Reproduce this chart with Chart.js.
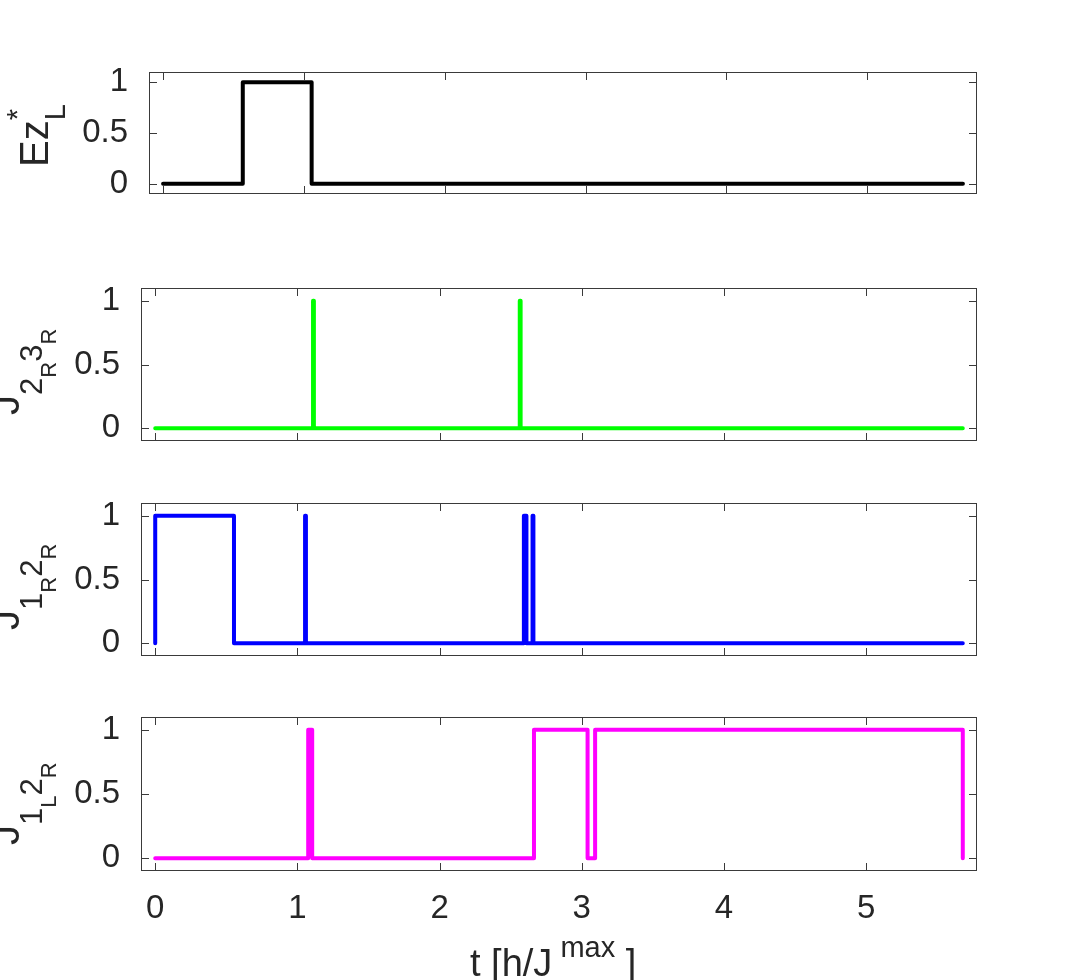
<!DOCTYPE html>
<html>
<head>
<meta charset="utf-8">
<script src="https://cdn.jsdelivr.net/npm/chart.js@4.4.1/dist/chart.umd.min.js"></script>
<style>
  body { margin: 0; background: #fff; }
  #page { position: relative; width: 1080px; height: 980px; overflow: hidden; background: #fff;
          font-family: "Liberation Sans", Arial, sans-serif; color: #262626; }
  canvas { position: absolute; left: 0; }
  /* rotated axis labels: origin is the start of the text, baseline ~34px right of it */
  .ylab { position: absolute; transform-origin: 0 0; transform: rotate(-90deg); white-space: nowrap;
          font-size: 40px; line-height: 1; }
  .sb { font-size: 31px; position: relative; top: 23px; }
  .ssb { font-size: 22px; position: relative; top: 14px; }
  .up { font-size: 29px; position: relative; top: -21px; margin-right: -0.389em; }
  .dn { font-size: 29px; position: relative; top: 17px; }
  #xlab { position: absolute; left: 470px; top: 944px; white-space: nowrap; font-size: 38px; line-height: 1; }
  #xlab .sup { font-size: 29px; position: relative; top: -19px; margin-left: 8px; }
</style>
</head>
<body>
<div id="page">
  <canvas id="c1"></canvas>
  <canvas id="c2"></canvas>
  <canvas id="c3"></canvas>
  <canvas id="c4"></canvas>
  <div class="ylab" style="left:14px; top:167px;">Ez<span class="up">*</span><span class="dn">L</span></div>
  <div class="ylab" style="left:-15px; top:415px;">J<span class="sb">2<span class="ssb">R</span>3<span class="ssb">R</span></span></div>
  <div class="ylab" style="left:-15px; top:630px;">J<span class="sb">1<span class="ssb">R</span>2<span class="ssb">R</span></span></div>
  <div class="ylab" style="left:-15px; top:845px;">J<span class="sb">1<span class="ssb">L</span>2<span class="ssb">R</span></span></div>
  <div id="xlab">t [h/J<span class="sup">max</span> ]</div>
</div>
<script>
// switching times (t) and the value the signal takes from that time on
const ezTimes = [0, 0.566, 1.055, 5.68];
const ezValues = [0, 1, 0, 0];

const j23Times = [0, 1.11, 1.116, 2.564, 2.57, 5.68];
const j23Values = [0, 1, 0, 1, 0, 0];

const j12RTimes = [0, 0, 0.554, 1.054, 1.06, 2.593, 2.611, 2.654, 2.66, 5.68];
const j12RValues = [0, 1, 0, 1, 0, 1, 0, 1, 0, 0];

const j12LTimes = [0, 1.076, 1.104, 2.664, 3.041, 3.094, 5.68];
const j12LValues = [0, 1, 0, 1, 0, 1, 0];

const xTicks = [0, 1, 2, 3, 4, 5];
const yTicks = [0, 0.5, 1];
const xTickLabels = ['0', '1', '2', '3', '4', '5'];
const yTickLabels = ['0', '0.5', '1'];

const TEXT = '#262626';
const FONT = '"Liberation Sans", Arial, sans-serif';
const TICK_LEN = 8;

// MATLAB-style box with inward ticks on all four sides
const boxPlugin = {
    id: 'boxPlugin',
    beforeDatasetsDraw(chart) {
        const { ctx, chartArea: a, scales } = chart;
        ctx.save();
        ctx.strokeStyle = '#3a3a3a';
        ctx.lineWidth = 1;
        ctx.strokeRect(Math.round(a.left) + 0.5, Math.round(a.top) + 0.5,
            Math.round(a.right - a.left) - 1, Math.round(a.bottom - a.top) - 1);
        ctx.beginPath();
        scales.x.ticks.forEach(t => {
            const px = Math.round(scales.x.getPixelForValue(t.value)) + 0.5;
            ctx.moveTo(px, a.top);
            ctx.lineTo(px, a.top + TICK_LEN);
            ctx.moveTo(px, a.bottom);
            ctx.lineTo(px, a.bottom - TICK_LEN);
        });
        scales.y.ticks.forEach(t => {
            const py = Math.round(scales.y.getPixelForValue(t.value)) + 0.5;
            ctx.moveTo(a.left, py);
            ctx.lineTo(a.left + TICK_LEN, py);
            ctx.moveTo(a.right, py);
            ctx.lineTo(a.right - TICK_LEN, py);
        });
        ctx.stroke();
        ctx.restore();
    }
};

function toPoints(times, values) {
    return times.map((t, i) => ({ x: t, y: values[i] }));
}

function makePanel(id, cfg) {
    const canvas = document.getElementById(id);
    const padTop = 30;
    const plotH = cfg.boxBottom - cfg.boxTop;
    canvas.width = 1080;
    canvas.height = padTop + plotH + cfg.bottomH;
    canvas.style.top = (cfg.boxTop - padTop) + 'px';

    return new Chart(canvas, {
        type: 'line',
        data: {
            datasets: [{
                data: toPoints(cfg.times, cfg.values),
                borderColor: cfg.color,
                borderWidth: 4,
                stepped: true,
                pointRadius: 0,
                fill: false,
                borderJoinStyle: 'round',
                borderCapStyle: 'round'
            }]
        },
        options: {
            responsive: false,
            animation: false,
            layout: { padding: { top: padTop, right: 1080 - 977, left: 0, bottom: 0 } },
            plugins: { legend: { display: false }, tooltip: { enabled: false } },
            scales: {
                x: {
                    type: 'linear',
                    min: -0.1,
                    max: 5.78,
                    afterBuildTicks: s => { s.ticks = xTicks.map(v => ({ value: v })); },
                    afterFit: s => {
                        s.height = cfg.bottomH;
                        s.paddingLeft = 0;
                        s.paddingRight = 0;
                    },
                    grid: { display: false, drawTicks: false },
                    border: { display: false },
                    ticks: {
                        display: cfg.showX,
                        padding: 18,
                        maxRotation: 0,
                        color: TEXT,
                        font: { family: FONT, size: 33 },
                        callback: v => xTickLabels[xTicks.indexOf(v)]
                    }
                },
                y: {
                    type: 'linear',
                    min: -0.1,
                    max: 1.1,
                    afterBuildTicks: s => { s.ticks = yTicks.map(v => ({ value: v })); },
                    afterFit: s => {
                        s.width = cfg.boxLeft;
                        s.paddingTop = 0;
                        s.paddingBottom = 0;
                    },
                    grid: { display: false, drawTicks: false },
                    border: { display: false },
                    ticks: {
                        padding: 21,
                        color: TEXT,
                        font: { family: FONT, size: 33 },
                        callback: v => yTickLabels[yTicks.indexOf(v)]
                    }
                }
            }
        },
        plugins: [boxPlugin]
    });
}

makePanel('c1', { times: ezTimes, values: ezValues, color: '#000000',
    boxTop: 72, boxBottom: 194, boxLeft: 149, bottomH: 20, showX: false });
makePanel('c2', { times: j23Times, values: j23Values, color: '#00ff00',
    boxTop: 288, boxBottom: 441, boxLeft: 141, bottomH: 20, showX: false });
makePanel('c3', { times: j12RTimes, values: j12RValues, color: '#0000ff',
    boxTop: 503, boxBottom: 656, boxLeft: 141, bottomH: 20, showX: false });
makePanel('c4', { times: j12LTimes, values: j12LValues, color: '#ff00ff',
    boxTop: 717, boxBottom: 871, boxLeft: 141, bottomH: 109, showX: true });
</script>
</body>
</html>
